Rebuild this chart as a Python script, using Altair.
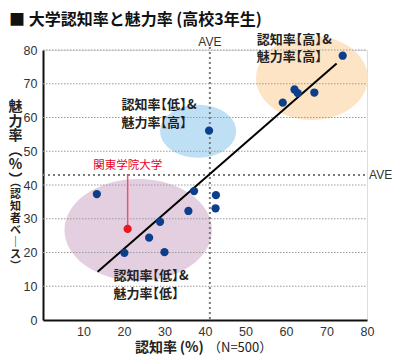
import altair as alt
import pandas as pd

# ---------------- data ----------------
aware = [13.3, 20.1, 26.2, 28.9, 30.0, 35.9, 37.3, 41.0, 42.7, 42.6, 59.2, 62.1, 62.9, 67.0, 74.0]
appeal = [37.3, 19.9, 24.4, 29.1, 20.1, 32.3, 38.2, 56.1, 37.0, 33.1, 64.4, 68.3, 67.2, 67.4, 78.3]

kanto_name = ["関東学院大学"]
kanto_aware = [20.9]
kanto_appeal = [27.0]

ave_aware = [41.2]
ave_appeal = [43.0]

trend_aware = [13.5, 72.5]
trend_appeal = [14.3, 76.0]

x_ticks = [10, 20, 30, 40, 50, 60, 70, 80]
y_ticks = [0, 10, 20, 30, 40, 50, 60, 70, 80]
grid_ticks = [10, 20, 30, 40, 50, 60, 70, 80]

zone_aware_level = ["高", "低", "低"]
zone_appeal_level = ["高", "高", "低"]
zone_center_aware = [66.4, 38.3, 23.5]
zone_center_appeal = [71.7, 55.9, 26.7]

# annotation anchors (data coordinates, first line of each label)
zone_label_aware = [52.8, 19.4, 17.4]
zone_label_appeal = [83.0, 63.7, 13.0]
kanto_label_appeal = [45.6]
kanto_leader_top = [43.3]

title_text = "■ 大学認知率と魅力率 (高校3年生)"
y_title_main = "魅\n力\n率\n︵\n%\n︶"
y_title_sub = "︵\n認\n知\n者\nベ\n｜\nス\n︶"
x_title_main = "認知率\u2009(%)"
x_title_sub = "（N=500）"
ave_text = "AVE"

# ---------------- styling ----------------
W, H = 324, 270
JP = "Noto Sans CJK JP"
LAT = "Liberation Sans"
FS = 13  # zone label font size

xs = alt.Scale(domain=[0, 80], nice=False, zero=False)
ys = alt.Scale(domain=[0, 80], nice=False, zero=False)
xa = alt.Axis(values=x_ticks, grid=False, ticks=False, domainColor="#111", domainWidth=2,
              labelFont=LAT, labelFontSize=12.5, labelColor="#333", labelPadding=5,
              title=None, labelFlush=False)
ya = alt.Axis(values=y_ticks, grid=False, ticks=False, domainColor="#111", domainWidth=2,
              labelFont=LAT, labelFontSize=12.5, labelColor="#333", labelPadding=6,
              title=None, labelFlush=False)


def X(f):
    return alt.X(f, type="quantitative", scale=xs, axis=xa)


def Y(f):
    return alt.Y(f, type="quantitative", scale=ys, axis=ya)


def ellipse_path(ratio):
    return f"M-1,0A1,{ratio:.3f} 0 1,0 1,0A1,{ratio:.3f} 0 1,0 -1,0Z"


# ellipse pixel dimensions and colours (style, not data)
zone_styles = [
    (111.7, 84.0, "#fde4c4"),
    (76.0, 53.0, "#bfdff4"),
    (147.4, 102.0, "#e4cfe1"),
]

layers = []
for i, (ew, eh, col) in enumerate(zone_styles):
    zdf = pd.DataFrame({"a": [zone_center_aware[i]], "b": [zone_center_appeal[i]]})
    layers.append(
        alt.Chart(zdf).mark_point(shape=ellipse_path(eh / ew), size=ew * ew, filled=True,
                                  fill=col, opacity=1, strokeWidth=0)
        .encode(x=X("a"), y=Y("b"))
    )

grid_df = pd.DataFrame({"v": grid_ticks})
layers.append(
    alt.Chart(grid_df).mark_rule(color="#9a9a9a", strokeWidth=1, strokeDash=[1.5, 1.5])
    .encode(y=Y("v"), x=alt.value(0), x2=alt.value(W))
)

ave_df = pd.DataFrame({"a": ave_aware, "b": ave_appeal})
layers.append(
    alt.Chart(ave_df).mark_rule(color="#7a7a7a", strokeWidth=2, strokeDash=[2, 3])
    .encode(y=Y("b"), x=alt.value(0), x2=alt.value(W))
)
layers.append(
    alt.Chart(ave_df).mark_rule(color="#7a7a7a", strokeWidth=2, strokeDash=[2, 3])
    .encode(x=X("a"), y=alt.value(-3), y2=alt.value(H))
)

trend_df = pd.DataFrame({"a": trend_aware, "b": trend_appeal})
layers.append(
    alt.Chart(trend_df).mark_line(color="#000", strokeWidth=2).encode(x=X("a"), y=Y("b"))
)

kanto_df = pd.DataFrame({"name": kanto_name, "a": kanto_aware, "b": kanto_appeal,
                         "top": kanto_leader_top, "ly": kanto_label_appeal})
layers.append(
    alt.Chart(kanto_df).mark_rule(color="#e8546b", strokeWidth=1.5)
    .encode(x=X("a"), y=Y("top"), y2="b")
)

pts_df = pd.DataFrame({"a": aware, "b": appeal})
layers.append(
    alt.Chart(pts_df).mark_circle(size=68, color="#0b3f8c", opacity=1).encode(x=X("a"), y=Y("b"))
)
layers.append(
    alt.Chart(kanto_df).mark_circle(size=68, color="#e5191f", opacity=1).encode(x=X("a"), y=Y("b"))
)
layers.append(
    alt.Chart(kanto_df).mark_text(font=JP, fontSize=11.5, color="#e60026", align="center",
                                  baseline="middle")
    .encode(x=X("a"), y=Y("ly"), text="name")
)

# zone labels, set in pieces so the brackets sit tight (proportional bracket spacing)
zl_df = pd.DataFrame({
    "head": ["認知率\n魅力率"] * 3,
    "brk": [f"【{p}】\n【{q}】" for p, q in zip(zone_aware_level, zone_appeal_level)],
    "amp": ["&"] * 3,
    "a": zone_label_aware,
    "b": zone_label_appeal,
})
txt_style = dict(font=JP, fontSize=FS, fontWeight="bold", color="#222", align="left",
                 baseline="middle", lineBreak="\n", lineHeight=17.5)
layers.append(alt.Chart(zl_df).mark_text(**txt_style).encode(x=X("a"), y=Y("b"), text="head"))
layers.append(alt.Chart(zl_df).mark_text(dx=2.5 * FS, **txt_style)
              .encode(x=X("a"), y=Y("b"), text="brk"))
layers.append(alt.Chart(zl_df).mark_text(dx=5.0 * FS + 0.5, **txt_style)
              .encode(x=X("a"), y=Y("b"), text="amp"))

avel_df = pd.DataFrame({"t": [ave_text, ave_text], "a": [ave_aware[0], 80.5],
                        "b": [82.4, ave_appeal[0]]})
layers.append(
    alt.Chart(avel_df.iloc[[0]]).mark_text(font=LAT, fontSize=12, color="#333", align="center",
                                           baseline="middle")
    .encode(x=X("a"), y=Y("b"), text="t")
)
layers.append(
    alt.Chart(avel_df.iloc[[1]]).mark_text(font=LAT, fontSize=12, color="#333", align="left",
                                           baseline="middle")
    .encode(x=X("a"), y=Y("b"), text="t")
)

# titles (outside the plot area)
one = pd.DataFrame({"k": [0]})
layers.append(
    alt.Chart(one).mark_text(font=JP, fontSize=16, fontWeight="bold", color="#111",
                             align="left", baseline="middle", text=title_text)
    .encode(x=alt.value(-34), y=alt.value(-30))
)
layers.append(
    alt.Chart(one).mark_text(font=JP, fontSize=14, fontWeight="bold", color="#222",
                             align="center", baseline="top", lineBreak="\n", lineHeight=14.5,
                             text=y_title_main)
    .encode(x=alt.value(-27.5), y=alt.value(50))
)
layers.append(
    alt.Chart(one).mark_text(font=JP, fontSize=11, fontWeight="bold", color="#222",
                             align="center", baseline="top", lineBreak="\n", lineHeight=12,
                             text=y_title_sub)
    .encode(x=alt.value(-27.5), y=alt.value(127))
)
layers.append(
    alt.Chart(one).mark_text(font=JP, fontSize=14, fontWeight="bold", color="#222",
                             align="left", baseline="middle", text=x_title_main)
    .encode(x=alt.value(92), y=alt.value(297.5))
)
layers.append(
    alt.Chart(one).mark_text(font=JP, fontSize=13, color="#222",
                             align="left", baseline="middle", text=x_title_sub)
    .encode(x=alt.value(165), y=alt.value(298))
)

chart = (
    alt.layer(*layers)
    .properties(width=W, height=H,
                autosize=alt.AutoSizeParams(type="none"),
                padding={"left": 35, "top": 42, "right": 25, "bottom": 35})
    .configure_view(stroke="transparent")
    .configure(background="white")
)

chart.save("out.html", embed_options={"renderer": "svg", "actions": False})
